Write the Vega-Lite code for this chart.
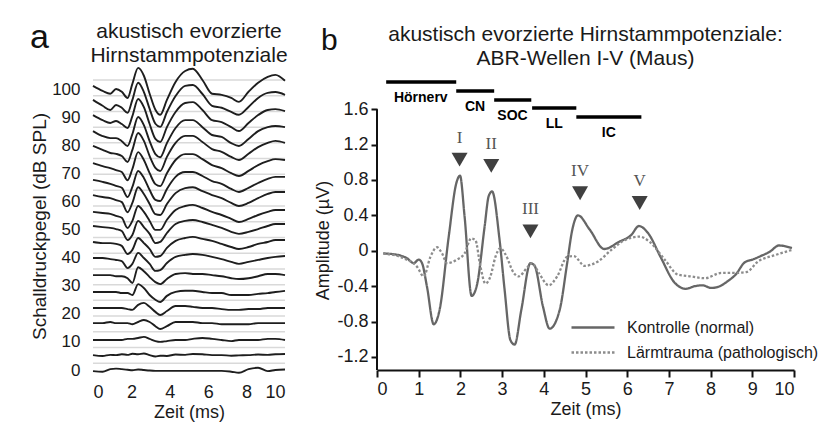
{
"$schema": "https://vega.github.io/schema/vega-lite/v6.json",
"background": "white",
"padding": {"left": 30, "top": 20, "right": 5, "bottom": 5},
"bounds": "flush",
"spacing": 92,
"config": {
  "view": {"stroke": null},
  "font": "Liberation Sans",
  "title": {"fontSize": 21, "fontWeight": "normal", "color": "#1a1a1a", "font": "Liberation Sans", "lineHeight": 24, "anchor": "middle"},
  "axis": {"labelColor": "#1a1a1a", "titleColor": "#1a1a1a", "titleFontWeight": "normal", "labelFont": "Liberation Sans", "titleFont": "Liberation Sans", "grid": false, "labelOverlap": false},
  "legend": {"orient": "none", "legendX": 477, "legendY": 254, "title": null, "symbolType": "stroke", "symbolSize": 1850, "symbolStrokeWidth": 2.5, "labelFontSize": 16, "labelOffset": 11, "rowPadding": 2, "clipHeight": 23, "labelColor": "#1a1a1a", "labelLimit": 400, "labelFont": "Liberation Sans"}
},
"datasets": {
  "grid": [{"g":103.3},{"g":97.7},{"g":92.1},{"g":86.5},{"g":80.9},{"g":75.3},{"g":69.7},{"g":64.0},{"g":58.4},{"g":52.8},{"g":47.2},{"g":41.6},{"g":36.0},{"g":30.4},{"g":24.8},{"g":19.2},{"g":13.6},{"g":8.0},{"g":2.4}],
  "traces": [
{"k":0,"t":0,"y":101.2},{"k":0,"t":0.5,"y":99.4},{"k":0,"t":0.9,"y":98.4},{"k":0,"t":1.2,"y":100.1},{"k":0,"t":1.5,"y":99.1},{"k":0,"t":1.8,"y":96.9},{"k":0,"t":2.05,"y":101.9},{"k":0,"t":2.35,"y":107.6},{"k":0,"t":2.65,"y":104.8},{"k":0,"t":2.95,"y":98.4},{"k":0,"t":3.25,"y":92.7},{"k":0,"t":3.5,"y":90.9},{"k":0,"t":3.85,"y":96.2},{"k":0,"t":4.3,"y":102.6},{"k":0,"t":4.8,"y":106.5},{"k":0,"t":5.2,"y":107.3},{"k":0,"t":5.7,"y":103.3},{"k":0,"t":6.2,"y":98.4},{"k":0,"t":6.7,"y":98.0},{"k":0,"t":7.2,"y":96.9},{"k":0,"t":7.6,"y":95.5},{"k":0,"t":8.1,"y":99.1},{"k":0,"t":8.6,"y":102.3},{"k":0,"t":9.1,"y":104.4},{"k":0,"t":9.5,"y":105.1},{"k":0,"t":10,"y":103.0},
{"k":1,"t":0,"y":96.2},{"k":1,"t":0.5,"y":94.1},{"k":1,"t":0.9,"y":92.6},{"k":1,"t":1.2,"y":94.4},{"k":1,"t":1.5,"y":93.4},{"k":1,"t":1.8,"y":91.6},{"k":1,"t":2.05,"y":96.2},{"k":1,"t":2.35,"y":102.3},{"k":1,"t":2.65,"y":99.0},{"k":1,"t":2.95,"y":93.0},{"k":1,"t":3.25,"y":87.7},{"k":1,"t":3.5,"y":86.6},{"k":1,"t":3.85,"y":91.9},{"k":1,"t":4.3,"y":97.6},{"k":1,"t":4.8,"y":101.2},{"k":1,"t":5.2,"y":101.5},{"k":1,"t":5.7,"y":98.3},{"k":1,"t":6.2,"y":94.1},{"k":1,"t":6.7,"y":93.4},{"k":1,"t":7.2,"y":91.9},{"k":1,"t":7.6,"y":90.9},{"k":1,"t":8.1,"y":93.7},{"k":1,"t":8.6,"y":96.9},{"k":1,"t":9.1,"y":98.7},{"k":1,"t":9.5,"y":99.0},{"k":1,"t":10,"y":98.0},
{"k":2,"t":0,"y":90.8},{"k":2,"t":0.5,"y":89.0},{"k":2,"t":0.9,"y":88.0},{"k":2,"t":1.2,"y":88.7},{"k":2,"t":1.5,"y":87.6},{"k":2,"t":1.8,"y":86.2},{"k":2,"t":2.05,"y":90.4},{"k":2,"t":2.35,"y":96.5},{"k":2,"t":2.65,"y":93.6},{"k":2,"t":2.95,"y":87.6},{"k":2,"t":3.25,"y":82.3},{"k":2,"t":3.5,"y":81.2},{"k":2,"t":3.85,"y":86.5},{"k":2,"t":4.3,"y":91.9},{"k":2,"t":4.8,"y":95.1},{"k":2,"t":5.2,"y":95.4},{"k":2,"t":5.7,"y":92.6},{"k":2,"t":6.2,"y":89.0},{"k":2,"t":6.7,"y":88.3},{"k":2,"t":7.2,"y":86.5},{"k":2,"t":7.6,"y":85.1},{"k":2,"t":8.1,"y":88.0},{"k":2,"t":8.6,"y":90.8},{"k":2,"t":9.1,"y":92.6},{"k":2,"t":9.5,"y":92.9},{"k":2,"t":10,"y":92.2},
{"k":3,"t":0,"y":85.1},{"k":3,"t":0.5,"y":83.3},{"k":3,"t":0.9,"y":82.6},{"k":3,"t":1.2,"y":82.6},{"k":3,"t":1.5,"y":81.5},{"k":3,"t":1.8,"y":79.8},{"k":3,"t":2.05,"y":84.0},{"k":3,"t":2.35,"y":90.1},{"k":3,"t":2.65,"y":87.2},{"k":3,"t":2.95,"y":81.5},{"k":3,"t":3.25,"y":76.9},{"k":3,"t":3.5,"y":75.8},{"k":3,"t":3.85,"y":80.8},{"k":3,"t":4.3,"y":86.2},{"k":3,"t":4.8,"y":89.0},{"k":3,"t":5.2,"y":89.0},{"k":3,"t":5.7,"y":86.5},{"k":3,"t":6.2,"y":83.7},{"k":3,"t":6.7,"y":83.0},{"k":3,"t":7.2,"y":80.8},{"k":3,"t":7.6,"y":79.8},{"k":3,"t":8.1,"y":82.3},{"k":3,"t":8.6,"y":85.1},{"k":3,"t":9.1,"y":86.5},{"k":3,"t":9.5,"y":86.9},{"k":3,"t":10,"y":86.5},
{"k":4,"t":0,"y":79.8},{"k":4,"t":0.5,"y":78.4},{"k":4,"t":0.9,"y":77.3},{"k":4,"t":1.2,"y":77.0},{"k":4,"t":1.5,"y":76.2},{"k":4,"t":1.8,"y":74.1},{"k":4,"t":2.05,"y":78.4},{"k":4,"t":2.35,"y":84.4},{"k":4,"t":2.65,"y":81.6},{"k":4,"t":2.95,"y":76.2},{"k":4,"t":3.25,"y":72.0},{"k":4,"t":3.5,"y":70.9},{"k":4,"t":3.85,"y":75.9},{"k":4,"t":4.3,"y":80.9},{"k":4,"t":4.8,"y":83.4},{"k":4,"t":5.2,"y":83.4},{"k":4,"t":5.7,"y":81.2},{"k":4,"t":6.2,"y":78.7},{"k":4,"t":6.7,"y":77.7},{"k":4,"t":7.2,"y":75.9},{"k":4,"t":7.6,"y":74.8},{"k":4,"t":8.1,"y":77.0},{"k":4,"t":8.6,"y":79.4},{"k":4,"t":9.1,"y":80.9},{"k":4,"t":9.5,"y":81.6},{"k":4,"t":10,"y":80.9},
{"k":5,"t":0,"y":73.7},{"k":5,"t":0.5,"y":72.6},{"k":5,"t":0.9,"y":71.9},{"k":5,"t":1.2,"y":71.2},{"k":5,"t":1.5,"y":70.5},{"k":5,"t":1.8,"y":67.6},{"k":5,"t":2.05,"y":71.6},{"k":5,"t":2.35,"y":77.6},{"k":5,"t":2.65,"y":74.8},{"k":5,"t":2.95,"y":70.1},{"k":5,"t":3.25,"y":66.2},{"k":5,"t":3.5,"y":65.5},{"k":5,"t":3.85,"y":70.1},{"k":5,"t":4.3,"y":74.8},{"k":5,"t":4.8,"y":76.9},{"k":5,"t":5.2,"y":76.9},{"k":5,"t":5.7,"y":75.1},{"k":5,"t":6.2,"y":73.0},{"k":5,"t":6.7,"y":71.9},{"k":5,"t":7.2,"y":70.1},{"k":5,"t":7.6,"y":69.1},{"k":5,"t":8.1,"y":70.9},{"k":5,"t":8.6,"y":73.0},{"k":5,"t":9.1,"y":74.4},{"k":5,"t":9.5,"y":75.1},{"k":5,"t":10,"y":74.8},
{"k":6,"t":0,"y":67.7},{"k":6,"t":0.5,"y":67.0},{"k":6,"t":0.9,"y":66.3},{"k":6,"t":1.2,"y":65.6},{"k":6,"t":1.5,"y":64.9},{"k":6,"t":1.8,"y":61.6},{"k":6,"t":2.05,"y":65.2},{"k":6,"t":2.35,"y":70.9},{"k":6,"t":2.65,"y":68.4},{"k":6,"t":2.95,"y":64.1},{"k":6,"t":3.25,"y":60.6},{"k":6,"t":3.5,"y":60.2},{"k":6,"t":3.85,"y":64.5},{"k":6,"t":4.3,"y":68.8},{"k":6,"t":4.8,"y":70.5},{"k":6,"t":5.2,"y":70.5},{"k":6,"t":5.7,"y":69.1},{"k":6,"t":6.2,"y":67.3},{"k":6,"t":6.7,"y":66.3},{"k":6,"t":7.2,"y":64.5},{"k":6,"t":7.6,"y":63.4},{"k":6,"t":8.1,"y":64.9},{"k":6,"t":8.6,"y":66.6},{"k":6,"t":9.1,"y":68.1},{"k":6,"t":9.5,"y":68.8},{"k":6,"t":10,"y":68.8},
{"k":7,"t":0,"y":62.3},{"k":7,"t":0.5,"y":61.6},{"k":7,"t":0.9,"y":61.2},{"k":7,"t":1.2,"y":60.5},{"k":7,"t":1.5,"y":59.8},{"k":7,"t":1.8,"y":56.2},{"k":7,"t":2.05,"y":59.5},{"k":7,"t":2.35,"y":65.1},{"k":7,"t":2.65,"y":62.7},{"k":7,"t":2.95,"y":59.1},{"k":7,"t":3.25,"y":55.5},{"k":7,"t":3.5,"y":55.2},{"k":7,"t":3.85,"y":59.1},{"k":7,"t":4.3,"y":63.0},{"k":7,"t":4.8,"y":64.8},{"k":7,"t":5.2,"y":65.1},{"k":7,"t":5.7,"y":63.7},{"k":7,"t":6.2,"y":62.3},{"k":7,"t":6.7,"y":61.2},{"k":7,"t":7.2,"y":59.5},{"k":7,"t":7.6,"y":58.4},{"k":7,"t":8.1,"y":59.5},{"k":7,"t":8.6,"y":61.2},{"k":7,"t":9.1,"y":62.7},{"k":7,"t":9.5,"y":63.4},{"k":7,"t":10,"y":63.4},
{"k":8,"t":0,"y":56.3},{"k":8,"t":0.5,"y":55.9},{"k":8,"t":0.9,"y":55.6},{"k":8,"t":1.2,"y":54.9},{"k":8,"t":1.5,"y":54.2},{"k":8,"t":1.8,"y":50.6},{"k":8,"t":2.05,"y":53.1},{"k":8,"t":2.35,"y":58.4},{"k":8,"t":2.65,"y":56.3},{"k":8,"t":2.95,"y":53.1},{"k":8,"t":3.25,"y":49.9},{"k":8,"t":3.5,"y":49.9},{"k":8,"t":3.85,"y":53.5},{"k":8,"t":4.3,"y":57.0},{"k":8,"t":4.8,"y":58.4},{"k":8,"t":5.2,"y":58.8},{"k":8,"t":5.7,"y":57.7},{"k":8,"t":6.2,"y":56.3},{"k":8,"t":6.7,"y":55.2},{"k":8,"t":7.2,"y":53.8},{"k":8,"t":7.6,"y":52.7},{"k":8,"t":8.1,"y":53.8},{"k":8,"t":8.6,"y":55.2},{"k":8,"t":9.1,"y":56.3},{"k":8,"t":9.5,"y":57.0},{"k":8,"t":10,"y":57.0},
{"k":9,"t":0,"y":51.3},{"k":9,"t":0.5,"y":50.9},{"k":9,"t":0.9,"y":50.6},{"k":9,"t":1.2,"y":50.2},{"k":9,"t":1.5,"y":49.5},{"k":9,"t":1.8,"y":46.3},{"k":9,"t":2.05,"y":48.1},{"k":9,"t":2.35,"y":53.1},{"k":9,"t":2.65,"y":50.9},{"k":9,"t":2.95,"y":48.5},{"k":9,"t":3.25,"y":45.2},{"k":9,"t":3.5,"y":45.6},{"k":9,"t":3.85,"y":48.8},{"k":9,"t":4.3,"y":52.0},{"k":9,"t":4.8,"y":53.1},{"k":9,"t":5.2,"y":53.4},{"k":9,"t":5.7,"y":52.7},{"k":9,"t":6.2,"y":51.7},{"k":9,"t":6.7,"y":50.6},{"k":9,"t":7.2,"y":49.2},{"k":9,"t":7.6,"y":48.5},{"k":9,"t":8.1,"y":49.2},{"k":9,"t":8.6,"y":50.2},{"k":9,"t":9.1,"y":51.3},{"k":9,"t":9.5,"y":52.0},{"k":9,"t":10,"y":52.0},
{"k":10,"t":0,"y":45.6},{"k":10,"t":0.5,"y":45.2},{"k":10,"t":0.9,"y":45.2},{"k":10,"t":1.2,"y":44.9},{"k":10,"t":1.5,"y":44.2},{"k":10,"t":1.8,"y":41.3},{"k":10,"t":2.05,"y":42.8},{"k":10,"t":2.35,"y":47.0},{"k":10,"t":2.65,"y":45.2},{"k":10,"t":2.95,"y":43.1},{"k":10,"t":3.25,"y":40.3},{"k":10,"t":3.5,"y":40.6},{"k":10,"t":3.85,"y":43.5},{"k":10,"t":4.3,"y":46.0},{"k":10,"t":4.8,"y":47.0},{"k":10,"t":5.2,"y":47.4},{"k":10,"t":5.7,"y":46.7},{"k":10,"t":6.2,"y":46.0},{"k":10,"t":6.7,"y":44.9},{"k":10,"t":7.2,"y":43.8},{"k":10,"t":7.6,"y":43.1},{"k":10,"t":8.1,"y":43.8},{"k":10,"t":8.6,"y":44.9},{"k":10,"t":9.1,"y":45.6},{"k":10,"t":9.5,"y":46.3},{"k":10,"t":10,"y":46.3},
{"k":11,"t":0,"y":39.9},{"k":11,"t":0.5,"y":39.9},{"k":11,"t":0.9,"y":39.5},{"k":11,"t":1.2,"y":39.2},{"k":11,"t":1.5,"y":38.8},{"k":11,"t":1.8,"y":36.3},{"k":11,"t":2.05,"y":37.8},{"k":11,"t":2.35,"y":41.7},{"k":11,"t":2.65,"y":39.9},{"k":11,"t":2.95,"y":37.8},{"k":11,"t":3.25,"y":35.3},{"k":11,"t":3.5,"y":35.6},{"k":11,"t":3.85,"y":38.1},{"k":11,"t":4.3,"y":40.3},{"k":11,"t":4.8,"y":41.0},{"k":11,"t":5.2,"y":41.3},{"k":11,"t":5.7,"y":41.0},{"k":11,"t":6.2,"y":40.3},{"k":11,"t":6.7,"y":39.5},{"k":11,"t":7.2,"y":38.5},{"k":11,"t":7.6,"y":37.8},{"k":11,"t":8.1,"y":38.5},{"k":11,"t":8.6,"y":39.2},{"k":11,"t":9.1,"y":39.9},{"k":11,"t":9.5,"y":40.3},{"k":11,"t":10,"y":40.6},
{"k":12,"t":0,"y":33.8},{"k":12,"t":0.5,"y":33.8},{"k":12,"t":0.9,"y":33.8},{"k":12,"t":1.2,"y":33.4},{"k":12,"t":1.5,"y":33.4},{"k":12,"t":1.8,"y":32.7},{"k":12,"t":2.05,"y":31.0},{"k":12,"t":2.35,"y":36.6},{"k":12,"t":2.65,"y":35.2},{"k":12,"t":2.95,"y":33.1},{"k":12,"t":3.25,"y":31.3},{"k":12,"t":3.5,"y":30.6},{"k":12,"t":3.85,"y":32.4},{"k":12,"t":4.3,"y":34.2},{"k":12,"t":4.8,"y":34.5},{"k":12,"t":5.2,"y":34.2},{"k":12,"t":5.7,"y":34.2},{"k":12,"t":6.2,"y":33.8},{"k":12,"t":6.7,"y":33.4},{"k":12,"t":7.2,"y":32.7},{"k":12,"t":7.6,"y":32.4},{"k":12,"t":8.1,"y":32.7},{"k":12,"t":8.6,"y":33.4},{"k":12,"t":9.1,"y":34.2},{"k":12,"t":9.5,"y":34.2},{"k":12,"t":10,"y":33.8},
{"k":13,"t":0,"y":27.8},{"k":13,"t":0.5,"y":27.8},{"k":13,"t":0.9,"y":27.8},{"k":13,"t":1.2,"y":27.8},{"k":13,"t":1.5,"y":27.4},{"k":13,"t":1.8,"y":27.4},{"k":13,"t":2.05,"y":26.7},{"k":13,"t":2.35,"y":30.6},{"k":13,"t":2.65,"y":29.2},{"k":13,"t":2.95,"y":26.7},{"k":13,"t":3.25,"y":25.0},{"k":13,"t":3.5,"y":24.2},{"k":13,"t":3.85,"y":26.4},{"k":13,"t":4.3,"y":27.8},{"k":13,"t":4.8,"y":28.2},{"k":13,"t":5.2,"y":28.2},{"k":13,"t":5.7,"y":27.8},{"k":13,"t":6.2,"y":27.4},{"k":13,"t":6.7,"y":27.4},{"k":13,"t":7.2,"y":26.7},{"k":13,"t":7.6,"y":26.7},{"k":13,"t":8.1,"y":26.7},{"k":13,"t":8.6,"y":27.1},{"k":13,"t":9.1,"y":27.4},{"k":13,"t":9.5,"y":27.8},{"k":13,"t":10,"y":28.2},
{"k":14,"t":0,"y":22.1},{"k":14,"t":0.5,"y":22.1},{"k":14,"t":0.9,"y":22.1},{"k":14,"t":1.2,"y":22.1},{"k":14,"t":1.5,"y":22.1},{"k":14,"t":1.8,"y":21.7},{"k":14,"t":2.05,"y":21.4},{"k":14,"t":2.35,"y":23.2},{"k":14,"t":2.65,"y":23.9},{"k":14,"t":2.95,"y":22.5},{"k":14,"t":3.25,"y":20.7},{"k":14,"t":3.5,"y":19.6},{"k":14,"t":3.85,"y":21.0},{"k":14,"t":4.3,"y":22.8},{"k":14,"t":4.8,"y":22.8},{"k":14,"t":5.2,"y":22.5},{"k":14,"t":5.7,"y":22.1},{"k":14,"t":6.2,"y":22.1},{"k":14,"t":6.7,"y":21.7},{"k":14,"t":7.2,"y":21.4},{"k":14,"t":7.6,"y":21.4},{"k":14,"t":8.1,"y":21.7},{"k":14,"t":8.6,"y":21.7},{"k":14,"t":9.1,"y":22.1},{"k":14,"t":9.5,"y":22.1},{"k":14,"t":10,"y":22.1},
{"k":15,"t":0,"y":16.7},{"k":15,"t":0.5,"y":16.7},{"k":15,"t":0.9,"y":17.1},{"k":15,"t":1.2,"y":16.7},{"k":15,"t":1.5,"y":16.7},{"k":15,"t":1.8,"y":16.7},{"k":15,"t":2.05,"y":16.3},{"k":15,"t":2.35,"y":17.1},{"k":15,"t":2.65,"y":17.8},{"k":15,"t":2.95,"y":17.1},{"k":15,"t":3.25,"y":15.6},{"k":15,"t":3.5,"y":14.6},{"k":15,"t":3.85,"y":15.6},{"k":15,"t":4.3,"y":17.1},{"k":15,"t":4.8,"y":17.1},{"k":15,"t":5.2,"y":17.1},{"k":15,"t":5.7,"y":16.7},{"k":15,"t":6.2,"y":16.7},{"k":15,"t":6.7,"y":16.3},{"k":15,"t":7.2,"y":16.3},{"k":15,"t":7.6,"y":16.3},{"k":15,"t":8.1,"y":16.3},{"k":15,"t":8.6,"y":16.7},{"k":15,"t":9.1,"y":16.7},{"k":15,"t":9.5,"y":16.7},{"k":15,"t":10,"y":16.7},
{"k":16,"t":0,"y":10.7},{"k":16,"t":0.5,"y":10.7},{"k":16,"t":0.9,"y":10.7},{"k":16,"t":1.2,"y":10.7},{"k":16,"t":1.5,"y":10.7},{"k":16,"t":1.8,"y":11.1},{"k":16,"t":2.05,"y":11.1},{"k":16,"t":2.35,"y":11.4},{"k":16,"t":2.65,"y":11.8},{"k":16,"t":2.95,"y":11.1},{"k":16,"t":3.25,"y":10.3},{"k":16,"t":3.5,"y":10.0},{"k":16,"t":3.85,"y":10.3},{"k":16,"t":4.3,"y":10.7},{"k":16,"t":4.8,"y":10.7},{"k":16,"t":5.2,"y":11.1},{"k":16,"t":5.7,"y":11.4},{"k":16,"t":6.2,"y":11.1},{"k":16,"t":6.7,"y":10.7},{"k":16,"t":7.2,"y":10.3},{"k":16,"t":7.6,"y":10.7},{"k":16,"t":8.1,"y":10.7},{"k":16,"t":8.6,"y":10.7},{"k":16,"t":9.1,"y":11.1},{"k":16,"t":9.5,"y":11.1},{"k":16,"t":10,"y":10.7},
{"k":17,"t":0,"y":5.3},{"k":17,"t":0.5,"y":5.0},{"k":17,"t":0.9,"y":5.4},{"k":17,"t":1.2,"y":5.3},{"k":17,"t":1.5,"y":5.6},{"k":17,"t":1.8,"y":5.4},{"k":17,"t":2.05,"y":5.8},{"k":17,"t":2.35,"y":5.6},{"k":17,"t":2.65,"y":5.9},{"k":17,"t":2.95,"y":5.3},{"k":17,"t":3.25,"y":4.8},{"k":17,"t":3.5,"y":5.1},{"k":17,"t":3.85,"y":5.0},{"k":17,"t":4.3,"y":5.5},{"k":17,"t":4.8,"y":5.4},{"k":17,"t":5.2,"y":5.7},{"k":17,"t":5.7,"y":5.6},{"k":17,"t":6.2,"y":5.3},{"k":17,"t":6.7,"y":5.3},{"k":17,"t":7.2,"y":5.1},{"k":17,"t":7.6,"y":5.2},{"k":17,"t":8.1,"y":5.3},{"k":17,"t":8.6,"y":5.5},{"k":17,"t":9.1,"y":5.4},{"k":17,"t":9.5,"y":5.6},{"k":17,"t":10,"y":5.7},
{"k":18,"t":0,"y":-0.4},{"k":18,"t":0.5,"y":-0.6},{"k":18,"t":0.9,"y":0.3},{"k":18,"t":1.2,"y":0.5},{"k":18,"t":1.5,"y":0.3},{"k":18,"t":1.8,"y":0.1},{"k":18,"t":2.05,"y":-0.1},{"k":18,"t":2.35,"y":0.2},{"k":18,"t":2.65,"y":0.0},{"k":18,"t":2.95,"y":-0.2},{"k":18,"t":3.25,"y":-0.3},{"k":18,"t":3.5,"y":-0.3},{"k":18,"t":3.85,"y":-0.3},{"k":18,"t":4.3,"y":-0.3},{"k":18,"t":4.8,"y":-0.3},{"k":18,"t":5.2,"y":-0.3},{"k":18,"t":5.7,"y":-0.3},{"k":18,"t":6.2,"y":-0.3},{"k":18,"t":6.7,"y":-0.3},{"k":18,"t":7.2,"y":-0.6},{"k":18,"t":7.6,"y":-1.0},{"k":18,"t":8.1,"y":0.3},{"k":18,"t":8.6,"y":0.8},{"k":18,"t":9.1,"y":-0.4},{"k":18,"t":9.5,"y":0.0},{"k":18,"t":10,"y":0.2}
  ],
  "abr": [
{"s":"Kontrolle (normal)","t":0.15,"v":-0.03},{"s":"Kontrolle (normal)","t":0.48,"v":-0.045},{"s":"Kontrolle (normal)","t":0.72,"v":-0.085},{"s":"Kontrolle (normal)","t":0.88,"v":-0.14},{"s":"Kontrolle (normal)","t":1.0,"v":-0.10},{"s":"Kontrolle (normal)","t":1.08,"v":-0.14},{"s":"Kontrolle (normal)","t":1.2,"v":-0.41},{"s":"Kontrolle (normal)","t":1.36,"v":-0.83},{"s":"Kontrolle (normal)","t":1.5,"v":-0.67},{"s":"Kontrolle (normal)","t":1.72,"v":0.16},{"s":"Kontrolle (normal)","t":1.9,"v":0.76},{"s":"Kontrolle (normal)","t":1.99,"v":0.85},{"s":"Kontrolle (normal)","t":2.1,"v":0.39},{"s":"Kontrolle (normal)","t":2.27,"v":-0.51},{"s":"Kontrolle (normal)","t":2.4,"v":-0.38},{"s":"Kontrolle (normal)","t":2.58,"v":0.27},{"s":"Kontrolle (normal)","t":2.68,"v":0.62},{"s":"Kontrolle (normal)","t":2.76,"v":0.67},{"s":"Kontrolle (normal)","t":2.94,"v":0.12},{"s":"Kontrolle (normal)","t":3.06,"v":-0.44},{"s":"Kontrolle (normal)","t":3.2,"v":-1.01},{"s":"Kontrolle (normal)","t":3.3,"v":-1.06},{"s":"Kontrolle (normal)","t":3.46,"v":-0.67},{"s":"Kontrolle (normal)","t":3.68,"v":-0.14},{"s":"Kontrolle (normal)","t":3.78,"v":-0.17},{"s":"Kontrolle (normal)","t":3.98,"v":-0.63},{"s":"Kontrolle (normal)","t":4.14,"v":-0.88},{"s":"Kontrolle (normal)","t":4.38,"v":-0.67},{"s":"Kontrolle (normal)","t":4.56,"v":-0.14},{"s":"Kontrolle (normal)","t":4.68,"v":0.23},{"s":"Kontrolle (normal)","t":4.82,"v":0.40},{"s":"Kontrolle (normal)","t":5.1,"v":0.24},{"s":"Kontrolle (normal)","t":5.45,"v":0.02},{"s":"Kontrolle (normal)","t":5.8,"v":0.10},{"s":"Kontrolle (normal)","t":6.1,"v":0.18},{"s":"Kontrolle (normal)","t":6.28,"v":0.28},{"s":"Kontrolle (normal)","t":6.5,"v":0.20},{"s":"Kontrolle (normal)","t":6.8,"v":-0.07},{"s":"Kontrolle (normal)","t":7.12,"v":-0.35},{"s":"Kontrolle (normal)","t":7.4,"v":-0.43},{"s":"Kontrolle (normal)","t":7.62,"v":-0.40},{"s":"Kontrolle (normal)","t":7.8,"v":-0.39},{"s":"Kontrolle (normal)","t":8.02,"v":-0.42},{"s":"Kontrolle (normal)","t":8.22,"v":-0.40},{"s":"Kontrolle (normal)","t":8.42,"v":-0.34},{"s":"Kontrolle (normal)","t":8.6,"v":-0.27},{"s":"Kontrolle (normal)","t":8.82,"v":-0.13},{"s":"Kontrolle (normal)","t":9.0,"v":-0.10},{"s":"Kontrolle (normal)","t":9.2,"v":-0.06},{"s":"Kontrolle (normal)","t":9.42,"v":-0.01},{"s":"Kontrolle (normal)","t":9.64,"v":0.06},{"s":"Kontrolle (normal)","t":9.95,"v":0.03},
{"s":"Lärmtrauma (pathologisch)","t":0.15,"v":-0.03},{"s":"Lärmtrauma (pathologisch)","t":0.64,"v":-0.085},{"s":"Lärmtrauma (pathologisch)","t":0.96,"v":-0.18},{"s":"Lärmtrauma (pathologisch)","t":1.12,"v":-0.29},{"s":"Lärmtrauma (pathologisch)","t":1.28,"v":-0.07},{"s":"Lärmtrauma (pathologisch)","t":1.44,"v":0.04},{"s":"Lärmtrauma (pathologisch)","t":1.56,"v":-0.03},{"s":"Lärmtrauma (pathologisch)","t":1.68,"v":-0.14},{"s":"Lärmtrauma (pathologisch)","t":1.92,"v":-0.10},{"s":"Lärmtrauma (pathologisch)","t":2.1,"v":-0.03},{"s":"Lärmtrauma (pathologisch)","t":2.26,"v":0.14},{"s":"Lärmtrauma (pathologisch)","t":2.36,"v":0.12},{"s":"Lärmtrauma (pathologisch)","t":2.48,"v":-0.18},{"s":"Lärmtrauma (pathologisch)","t":2.6,"v":-0.37},{"s":"Lärmtrauma (pathologisch)","t":2.72,"v":-0.29},{"s":"Lärmtrauma (pathologisch)","t":2.84,"v":-0.07},{"s":"Lärmtrauma (pathologisch)","t":2.96,"v":0.03},{"s":"Lärmtrauma (pathologisch)","t":3.08,"v":-0.04},{"s":"Lärmtrauma (pathologisch)","t":3.28,"v":-0.25},{"s":"Lärmtrauma (pathologisch)","t":3.4,"v":-0.29},{"s":"Lärmtrauma (pathologisch)","t":3.6,"v":-0.19},{"s":"Lärmtrauma (pathologisch)","t":3.72,"v":-0.14},{"s":"Lärmtrauma (pathologisch)","t":3.88,"v":-0.25},{"s":"Lärmtrauma (pathologisch)","t":4.12,"v":-0.39},{"s":"Lärmtrauma (pathologisch)","t":4.32,"v":-0.29},{"s":"Lärmtrauma (pathologisch)","t":4.56,"v":-0.07},{"s":"Lärmtrauma (pathologisch)","t":4.72,"v":-0.06},{"s":"Lärmtrauma (pathologisch)","t":4.98,"v":-0.17},{"s":"Lärmtrauma (pathologisch)","t":5.3,"v":-0.12},{"s":"Lärmtrauma (pathologisch)","t":5.62,"v":0.01},{"s":"Lärmtrauma (pathologisch)","t":5.94,"v":0.12},{"s":"Lärmtrauma (pathologisch)","t":6.3,"v":0.16},{"s":"Lärmtrauma (pathologisch)","t":6.54,"v":0.10},{"s":"Lärmtrauma (pathologisch)","t":6.9,"v":-0.10},{"s":"Lärmtrauma (pathologisch)","t":7.22,"v":-0.27},{"s":"Lärmtrauma (pathologisch)","t":7.54,"v":-0.29},{"s":"Lärmtrauma (pathologisch)","t":7.86,"v":-0.31},{"s":"Lärmtrauma (pathologisch)","t":8.26,"v":-0.25},{"s":"Lärmtrauma (pathologisch)","t":8.58,"v":-0.25},{"s":"Lärmtrauma (pathologisch)","t":8.86,"v":-0.24},{"s":"Lärmtrauma (pathologisch)","t":9.14,"v":-0.12},{"s":"Lärmtrauma (pathologisch)","t":9.54,"v":-0.05},{"s":"Lärmtrauma (pathologisch)","t":9.95,"v":0.01}
  ],
  "waves": [{"wave":"I","t":1.98,"v":1.03},{"wave":"II","t":2.74,"v":0.96},{"wave":"III","t":3.68,"v":0.22},{"wave":"IV","t":4.87,"v":0.65},{"wave":"V","t":6.3,"v":0.54}],
  "nuclei": [
    {"name":"Hörnerv","t0":0.22,"t1":1.9,"tm":1.05,"v":1.907},
    {"name":"CN","t0":1.9,"t1":2.81,"tm":2.35,"v":1.806},
    {"name":"SOC","t0":2.81,"t1":3.7,"tm":3.25,"v":1.704},
    {"name":"LL","t0":3.72,"t1":4.78,"tm":4.25,"v":1.614},
    {"name":"IC","t0":4.78,"t1":6.34,"tm":5.56,"v":1.512}
  ]
},
"hconcat": [
  {
    "width": 192, "height": 308,
    "title": {"text": ["akustisch evorzierte", "Hirnstammpotenziale"], "offset": -45},
    "layer": [
      {
        "data": {"name": "grid"},
        "mark": {"type": "rule", "color": "#d9d9d9", "strokeWidth": 1.5},
        "encoding": {"y": {"field": "g", "type": "quantitative", "scale": {"domain": [0, 109.7], "nice": false, "zero": false},
                "axis": {"values": [0,10,20,30,40,50,60,70,80,90,100], "title": "Schalldruckpegel (dB SPL)", "domain": false, "ticks": false, "tickSize": 0, "labelPadding": 13, "labelFontSize": 17, "titleFontSize": 19, "titlePadding": 2, "titleY": 164, "labelOverlap": false}}}
      },
      {
        "data": {"name": "traces"},
        "mark": {"type": "line", "color": "#1e1e1e", "strokeWidth": 1.9, "strokeJoin": "round", "interpolate": "monotone"},
        "encoding": {
          "x": {"field": "t", "type": "quantitative", "scale": {"domain": [0, 10], "nice": false},
                "axis": {"values": [0,2,4,6,8,10], "title": "Zeit (ms)", "domain": false, "ticks": false, "tickSize": 0, "labelPadding": 13, "labelFontSize": 18, "titleFontSize": 18, "titlePadding": 2, "labelOverlap": false}},
          "y": {"field": "y", "type": "quantitative", "scale": {"domain": [0, 109.7], "nice": false, "zero": false},
                "axis": {"values": [0,10,20,30,40,50,60,70,80,90,100], "title": "Schalldruckpegel (dB SPL)", "domain": false, "ticks": false, "tickSize": 0, "labelPadding": 13, "labelFontSize": 17, "titleFontSize": 19, "titlePadding": 2, "titleY": 164, "labelOverlap": false}},
          "detail": {"field": "k", "type": "nominal"}
        }
      },
      {
        "data": {"values": [{"panel": "a"}]},
        "mark": {"type": "text", "fontSize": 34, "align": "left", "baseline": "alphabetic", "color": "#111"},
        "encoding": {
          "x": {"datum": -3.28, "axis": {"values": [0,2,4,6,8,10], "title": "Zeit (ms)", "domain": false, "ticks": false, "tickSize": 0, "labelPadding": 13, "labelFontSize": 18, "titleFontSize": 18, "titlePadding": 2, "labelOverlap": false}},
          "y": {"datum": 114.7, "axis": {"values": [0,10,20,30,40,50,60,70,80,90,100], "title": "Schalldruckpegel (dB SPL)", "domain": false, "ticks": false, "tickSize": 0, "labelPadding": 13, "labelFontSize": 17, "titleFontSize": 19, "titlePadding": 2, "titleY": 164, "labelOverlap": false}},
          "text": {"field": "panel"}
        }
      }
    ]
  },
  {
    "width": 417, "height": 308,
    "title": {"text": ["akustisch evorzierte Hirnstammpotenziale:", "ABR-Wellen I-V (Maus)"], "offset": -43},
    "layer": [
      {
        "data": {"name": "abr"},
        "mark": {"type": "line", "strokeWidth": 2.3, "strokeJoin": "round", "interpolate": "monotone"},
        "encoding": {
          "x": {"field": "t", "type": "quantitative", "scale": {"domain": [0, 10], "nice": false},
                "axis": {"values": [0,1,2,3,4,5,6,7,8,9,10], "title": "Zeit (ms)", "domainColor": "#111", "domainWidth": 2, "tickColor": "#111", "tickWidth": 2, "tickSize": 7, "labelPadding": 3, "labelFontSize": 18, "titleFontSize": 18, "titlePadding": 2, "labelOverlap": false}},
          "y": {"field": "v", "type": "quantitative", "scale": {"domain": [-1.347, 2.133], "nice": false, "zero": false},
                "axis": {"values": [-1.2,-0.8,-0.4,0,0.4,0.8,1.2,1.6], "title": "Amplitude (µV)", "domain": false, "tickColor": "#111", "tickWidth": 2, "tickSize": 6, "labelPadding": 3, "labelFontSize": 18, "titleFontSize": 18, "titlePadding": 4, "titleY": 178, "labelOverlap": false,
                         "labelExpr": "datum.value == 0 ? '0' : (datum.value < 0 ? '-' + format(-datum.value, '.1f') : format(datum.value, '.1f'))"}},
          "color": {"field": "s", "type": "nominal", "scale": {"domain": ["Kontrolle (normal)", "Lärmtrauma (pathologisch)"], "range": ["#666666", "#8c8c8c"]}},
          "strokeDash": {"field": "s", "type": "nominal", "scale": {"domain": ["Kontrolle (normal)", "Lärmtrauma (pathologisch)"], "range": [[1, 0], [2.5, 2]]}}
        }
      },
      {
        "data": {"values": [{}]},
        "mark": {"type": "rule", "color": "#111", "strokeWidth": 2},
        "encoding": {"x": {"datum": 0}, "y": {"datum": -1.347}, "y2": {"datum": 1.6}}
      },
      {
        "data": {"name": "nuclei"},
        "mark": {"type": "rule", "color": "#000", "strokeWidth": 3.5},
        "encoding": {"x": {"field": "t0", "type": "quantitative"}, "x2": {"field": "t1"}, "y": {"field": "v", "type": "quantitative"}}
      },
      {
        "data": {"name": "nuclei"},
        "mark": {"type": "text", "fontSize": 14, "fontWeight": "bold", "color": "#000", "dy": 16, "baseline": "middle"},
        "encoding": {"x": {"field": "tm", "type": "quantitative"}, "y": {"field": "v", "type": "quantitative"}, "text": {"field": "name"}}
      },
      {
        "data": {"name": "waves"},
        "mark": {"type": "point", "shape": "triangle-down", "filled": true, "size": 256, "color": "#404040", "opacity": 1},
        "encoding": {"x": {"field": "t", "type": "quantitative"}, "y": {"field": "v", "type": "quantitative"}}
      },
      {
        "data": {"name": "waves"},
        "mark": {"type": "text", "font": "Liberation Serif", "fontSize": 17, "color": "#555", "dy": -22, "baseline": "middle"},
        "encoding": {"x": {"field": "t", "type": "quantitative"}, "y": {"field": "v", "type": "quantitative"}, "text": {"field": "wave"}}
      },
      {
        "data": {"values": [{"panel": "b"}]},
        "mark": {"type": "text", "fontSize": 30, "align": "left", "baseline": "alphabetic", "color": "#111"},
        "encoding": {"x": {"datum": -1.344}, "y": {"datum": 2.269}, "text": {"field": "panel"}}
      }
    ]
  }
]
}
